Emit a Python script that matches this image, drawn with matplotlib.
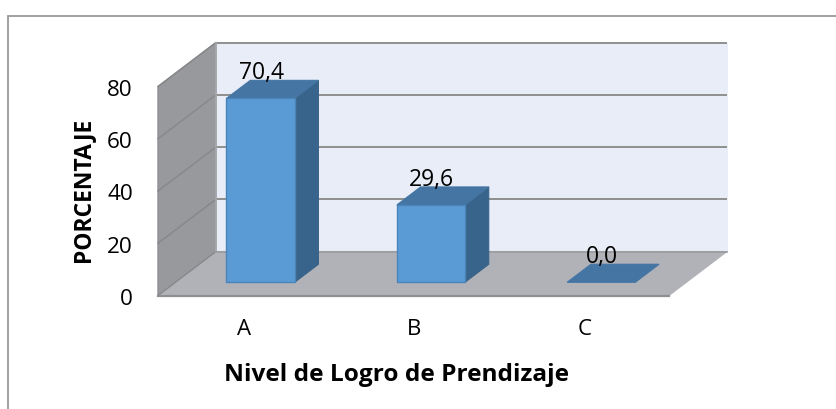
import matplotlib
matplotlib.use("Agg")
import matplotlib.pyplot as plt
from matplotlib.lines import Line2D
from matplotlib.patches import Polygon

categories = ["A", "B", "C"]
values = [70.4, 29.6, 0.0]
value_labels = ["70,4", "29,6", "0,0"]
yticks = [0, 20, 40, 60, 80]
ylabel = "PORCENTAJE"
xlabel = "Nivel de Logro de Prendizaje"

W, H = 837, 409
PX = 0.72
plt.rcParams['font.family'] = ['Open Sans', 'DejaVu Sans']
fig = plt.figure(figsize=(W / 100, H / 100), dpi=100, facecolor="white")
FRAME = "#9a9a9a"
fig.add_artist(Line2D([8.5 / W, 8.5 / W, 1], [0, 1 - 15.5 / H, 1 - 15.5 / H],
                      transform=fig.transFigure, color=FRAME, lw=1.3,
                      solid_joinstyle="miter"))

ax = fig.add_axes([158 / W, 1 - 295.5 / H, 511 / W, 209 / H])
ax.set_zorder(2)
ax.set_xlim(-0.5, 2.5)
ax.set_ylim(0, 80)
ax.axis("off")

DX = 58 / (511 / 3)   # full depth in x units
DY = 44 / (209 / 80)  # full depth in y units
BW = 0.4
Z0, Z1 = 0.30, 0.71


def pr(x, y, z):
    return (x + z * DX, y + z * DY)


def face(pts, fc, ec=None, lw=0.8, zo=1):
    ax.add_patch(Polygon([pr(*p) for p in pts], closed=True, fc=fc, ec=ec or fc, lw=lw,
                         zorder=zo, clip_on=False))


x0, x1 = -0.5, 2.5
ymax = yticks[-1]
GRID = "#8f8f8f"
face([(x0, 0, 1), (x1, 0, 1), (x1, ymax, 1), (x0, ymax, 1)], "#e9edf8", "#e9edf8", zo=1)
face([(x0, 0, 0), (x0, 0, 1), (x0, ymax, 1), (x0, ymax, 0)], "#97999c", "#8d8f91", lw=1.0, zo=2)
face([(x0, 0, 0), (x1, 0, 0), (x1, 0, 1), (x0, 0, 1)], "#b0b2b8", "#b0b2b8", zo=2)
for t in yticks:
    a = pr(x0, t, 1)
    b = pr(x1, t, 1)
    ax.plot([a[0], b[0]], [a[1], b[1]], color=GRID, lw=1.4, zorder=1.5, clip_on=False,
            solid_capstyle="butt")
    c = pr(x0, t, 0)
    ax.plot([c[0], a[0]], [c[1], a[1]], color="#858789", lw=1.0, zorder=2.5, clip_on=False)
a, b = pr(x0, 0, 0), pr(x1, 0, 0)
ax.plot([a[0], b[0]], [a[1], b[1]], color="#8d8f91", lw=1.6, zorder=2.6, clip_on=False)
a, b = pr(x0, 0, 1), pr(x0, ymax, 1)
ax.plot([a[0], b[0]], [a[1], b[1]], color="#a8aaad", lw=1.2, zorder=2.6, clip_on=False)
a, b = pr(x0, 0, 1), pr(x1, 0, 1)
ax.plot([a[0], b[0]], [a[1], b[1]], color="#9a9c9f", lw=1.2, zorder=2.6, clip_on=False)

FRONT, TOP, SIDE = "#5b9bd5", "#4475a3", "#38648b"
for i, v in enumerate(values):
    l, r = i - BW / 2, i + BW / 2
    if v > 0:
        face([(l, 0, Z0), (r, 0, Z0), (r, v, Z0), (l, v, Z0)], FRONT, "#4a84b8", lw=1.0, zo=4)
        face([(r, 0, Z0), (r, 0, Z1), (r, v, Z1), (r, v, Z0)], SIDE, SIDE, zo=3.5)
    face([(l, v, Z0), (r, v, Z0), (r, v, Z1), (l, v, Z1)], TOP, TOP, zo=3.6)
    lx, ly = pr(i, v, Z0)
    ax.annotate(value_labels[i], (lx, ly), xytext=(1 * PX, 25 * PX), textcoords="offset points",
                ha="center", va="center", fontsize=16.5, color="black", zorder=6,
                annotation_clip=False)

for t in yticks:
    ax.annotate(str(t), (x0, t), xytext=(-25 * PX, -4 * PX), textcoords="offset points",
                ha="right", va="center", fontsize=16.2, color="black", annotation_clip=False)
for i, c in enumerate(categories):
    ax.annotate(c, pr(i, 0, Z0), xytext=(-17 * PX, -47 * PX), textcoords="offset points",
                ha="center", va="center", fontsize=16, color="black", annotation_clip=False)

fig.text(83 / W, 1 - 190 / H, ylabel, rotation=90, ha="center", va="center", fontsize=16.5,
         fontweight="bold")
fig.text(397 / W, 1 - 375 / H, xlabel, ha="center", va="center", fontsize=17.6,
         fontweight="bold")

fig.savefig("out.png", dpi=100)
